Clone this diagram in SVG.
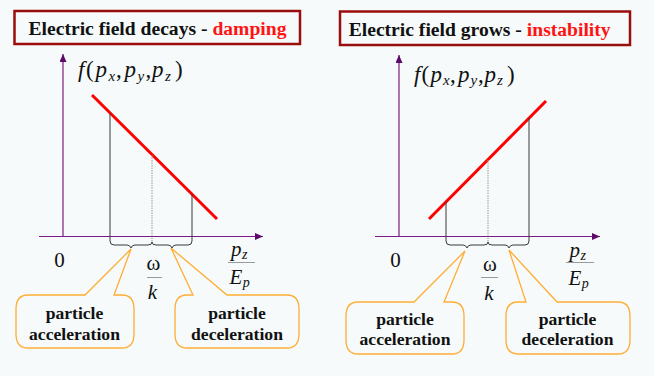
<svg xmlns="http://www.w3.org/2000/svg" width="654" height="376" viewBox="0 0 654 376">
<style>
.bg{fill:#f6fafa}
.title{fill:#f6fafa;stroke:#9b0d0d;stroke-width:2.5}
.tt{font-family:'Liberation Serif','Times New Roman','DejaVu Serif',serif;font-weight:bold;font-size:19.6px;fill:#111}
.red{fill:#ff1414}
.axis{stroke:#7a1a84;stroke-width:1.2;fill:none}
.fl{stroke:#ff0000;stroke-width:3;fill:none}
.vl{stroke:#3a3a3a;stroke-width:1;fill:none}
.dl{stroke:#9a9a9a;stroke-width:1;stroke-dasharray:1.5 1;fill:none}
.bar{stroke:#9a9a9a;stroke-width:1}
.m{font-family:'Liberation Serif','Times New Roman','DejaVu Serif',serif;font-size:21px;fill:#111}
.mi{font-family:'Liberation Serif','Times New Roman','DejaVu Serif',serif;font-style:italic;font-size:21px;fill:#111}
.fx{font-size:23px}
.sub{font-size:14px}
.fsub{font-size:15px}
.call{fill:#f6fafa;stroke:#ffad33;stroke-width:1.3}
.ct{font-family:'Liberation Serif','Times New Roman','DejaVu Serif',serif;font-weight:bold;font-size:17.6px;fill:#111;text-anchor:middle}
</style>
<defs>
<marker id="ah" viewBox="0 0 8 7" refX="8" refY="3.5" markerWidth="8" markerHeight="7" markerUnits="userSpaceOnUse" orient="auto">
<path d="M0,0 L8,3.5 L0,7 Z" fill="#5e0a6a"/>
</marker>
</defs>
<rect class="bg" x="0" y="0" width="654" height="376"/>

<!-- LEFT PANEL -->
<g id="title-left">
<rect class="title" x="14.5" y="11" width="285.5" height="33"/>
<text class="tt" x="28.5" y="34.5">Electric field decays - <tspan class="red">damping</tspan></text>
</g>
<g id="axes-left">
<line class="axis" x1="63" y1="236.5" x2="63" y2="54" marker-end="url(#ah)"/>
<line class="axis" x1="39" y1="236.5" x2="263" y2="236.5" marker-end="url(#ah)"/>
</g>
<g id="label-f-left">
<text class="mi fx" y="77"><tspan x="78">f</tspan><tspan x="86" font-style="normal">(</tspan><tspan x="95.5">p</tspan><tspan x="108.5" y="80.5" class="fsub">x</tspan><tspan x="116" y="77" font-style="normal">,</tspan><tspan x="124.5">p</tspan><tspan x="137.5" y="80.5" class="fsub">y</tspan><tspan x="145.5" y="77" font-style="normal">,</tspan><tspan x="152">p</tspan><tspan x="165" y="80.5" class="fsub">z</tspan><tspan x="175" y="77" font-style="normal">)</tspan></text>
</g>
<g id="distribution-left">
<line class="fl" x1="92" y1="95" x2="217" y2="219"/>
</g>
<g id="zero-left"><text class="m" x="59.5" y="267" text-anchor="middle">0</text></g>
<g id="omega-k-left">
<text class="m" x="153.5" y="270" text-anchor="middle">ω</text>
<line class="bar" x1="147" y1="277.5" x2="162" y2="277.5"/>
<text class="mi" x="152.5" y="299" text-anchor="middle">k</text>
</g>
<g id="pz-ep-left">
<text class="mi" x="231" y="255.5">p<tspan class="sub" dx="0.5" dy="3">z</tspan></text>
<line class="bar" x1="228" y1="262.5" x2="255" y2="262.5"/>
<text class="mi" x="229.5" y="284">E<tspan class="sub" dx="0.5" dy="3">p</tspan></text>
</g>
<g id="callout-acc-left">
<path class="call" d="M28,295 H85 L131,249 L114,295 H122 Q134,295 134,309 V334 Q134,348 122,348 H28 Q16,348 16,334 V309 Q16,295 28,295 Z"/>
<text class="ct" x="74.5" y="319">particle</text>
<text class="ct" x="74.5" y="339.5">acceleration</text>
</g>
<g id="callout-dec-left">
<path class="call" d="M187,295 H193 L171,248 L227,295 H287 Q299,295 299,309 V334 Q299,348 287,348 H187 Q175,348 175,334 V309 Q175,295 187,295 Z"/>
<text class="ct" x="237" y="319">particle</text>
<text class="ct" x="237" y="339.5">deceleration</text>
</g>

<!-- RIGHT PANEL -->
<g id="title-right">
<rect class="title" x="340" y="11.5" width="290" height="33.5"/>
<text class="tt" x="348.7" y="35.5">Electric field grows - <tspan class="red">instability</tspan></text>
</g>
<g id="axes-right">
<line class="axis" x1="399" y1="236.5" x2="399" y2="55" marker-end="url(#ah)"/>
<line class="axis" x1="375" y1="236.5" x2="600" y2="236.5" marker-end="url(#ah)"/>
</g>
<g id="label-f-right">
<text class="mi fx" y="81.5"><tspan x="414">f</tspan><tspan x="421.5" font-style="normal">(</tspan><tspan x="430.5">p</tspan><tspan x="443" y="85" class="fsub">x</tspan><tspan x="450" y="81.5" font-style="normal">,</tspan><tspan x="458">p</tspan><tspan x="470.5" y="85" class="fsub">y</tspan><tspan x="478" y="81.5" font-style="normal">,</tspan><tspan x="484.5">p</tspan><tspan x="497" y="85" class="fsub">z</tspan><tspan x="507" y="81.5" font-style="normal">)</tspan></text>
</g>
<g id="distribution-right">
<line class="fl" x1="429" y1="219" x2="546" y2="101"/>
</g>
<g id="zero-right"><text class="m" x="395.5" y="267" text-anchor="middle">0</text></g>
<g id="omega-k-right">
<text class="m" x="490" y="271" text-anchor="middle">ω</text>
<line class="bar" x1="481" y1="277.5" x2="498" y2="277.5"/>
<text class="mi" x="489" y="300" text-anchor="middle">k</text>
</g>
<g id="pz-ep-right">
<text class="mi" x="569.5" y="256.5">p<tspan class="sub" dx="0.5" dy="3">z</tspan></text>
<line class="bar" x1="566" y1="262.5" x2="594" y2="262.5"/>
<text class="mi" x="568.5" y="284.5">E<tspan class="sub" dx="0.5" dy="3">p</tspan></text>
</g>
<g id="callout-acc-right">
<path class="call" d="M358,302 H414 L465,251 L444,302 H452 Q464,302 464,316 V340 Q464,354 452,354 H358 Q346,354 346,340 V316 Q346,302 358,302 Z"/>
<text class="ct" x="405" y="324.5">particle</text>
<text class="ct" x="405" y="345">acceleration</text>
</g>
<g id="callout-dec-right">
<path class="call" d="M518,302 H526 L509,250 L557,302 H618 Q630,302 630,316 V340 Q630,354 618,354 H518 Q506,354 506,340 V316 Q506,302 518,302 Z"/>
<text class="ct" x="567.5" y="324.5">particle</text>
<text class="ct" x="567.5" y="345">deceleration</text>
</g>

<g id="connectors">
<path class="vl" d="M110,113 V241"/>
<path class="vl" d="M192,194 V241"/>
<path class="dl" d="M152,155 V242"/>
<path class="vl" d="M110,241 Q110,245 114,245 L127,245 Q130,245 131,248 Q132,245 135,245 L148,245 Q152,245 152,242"/>
<path class="vl" d="M152,242 Q152,245 156,245 L168,245 Q171,245 172,248 Q173,245 176,245 L188,245 Q192,245 192,241"/>
<path class="vl" d="M446,202 V241"/>
<path class="vl" d="M529,118 V241"/>
<path class="dl" d="M488,160 V242"/>
<path class="vl" d="M446,241 Q446,245 450,245 L463,245 Q466,245 467,248 Q468,245 471,245 L484,245 Q488,245 488,242"/>
<path class="vl" d="M488,242 Q488,245 492,245 L505,245 Q508,245 509,248 Q510,245 513,245 L525,245 Q529,245 529,241"/>
</g>
</svg>
